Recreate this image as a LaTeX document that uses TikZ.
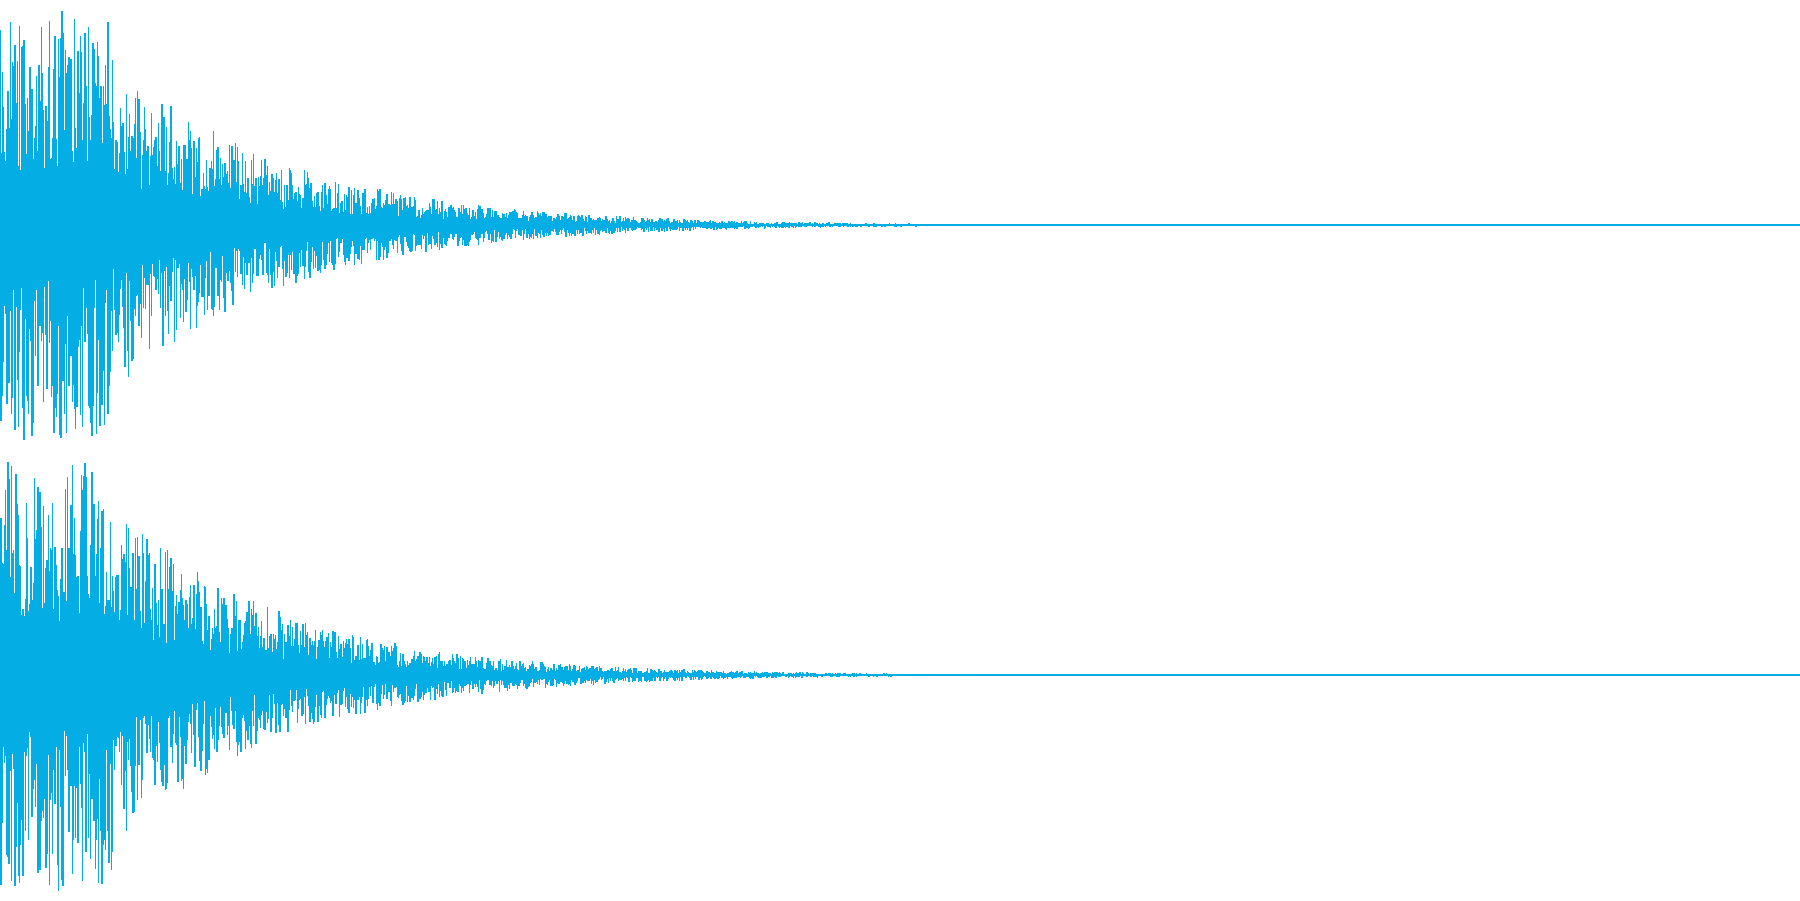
\documentclass[tikz,border=0pt]{standalone}
\definecolor{wave}{HTML}{05ADE5}
\begin{document}
\begin{tikzpicture}[x=0.01cm,y=-0.01cm,wv/.style={draw=wave,line width=0.012cm}]
\useasboundingbox (0,0) rectangle (1568,784);
\pgfmathsetseed{7}
\draw[wave,line width=0.5pt] (0,196) -- (1568,196);
\draw[wave,line width=0.5pt] (0,588) -- (1568,588);
\foreach \i in {0,...,900}{
  \pgfmathsetmacro\e{\i<95 ? 188 : 150*exp(-(\i-95)/150)}
  \pgfmathsetmacro\u{\e*(0.25+0.75*rnd)}
  \pgfmathsetmacro\d{\e*(0.25+0.75*rnd)}
  \draw[wv] (\i,196-\u) -- (\i,196+\d);
  \pgfmathsetmacro\f{\i<100 ? 188 : 150*exp(-(\i-100)/145)}
  \pgfmathsetmacro\p{\f*(0.25+0.75*rnd)}
  \pgfmathsetmacro\q{\f*(0.25+0.75*rnd)}
  \draw[wv] (\i,588-\p) -- (\i,588+\q);
}
\end{tikzpicture}
\end{document}
